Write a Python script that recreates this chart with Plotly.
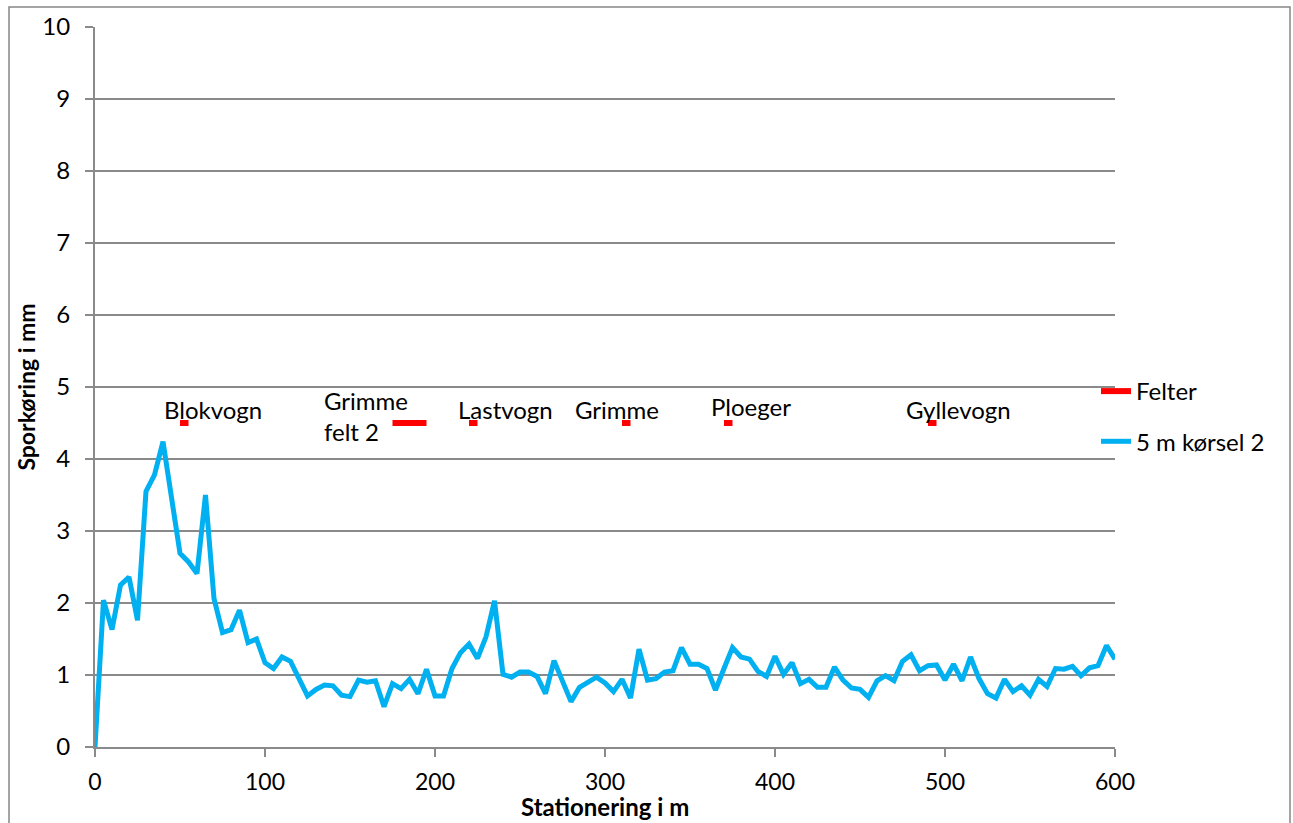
import plotly.graph_objects as go

# Data
station = list(range(0, 605, 5))
kørsel2 = [
    0.00, 2.04, 1.63, 2.25, 2.36, 1.76, 3.55, 3.78, 4.24, 3.45,
    2.69, 2.57, 2.41, 3.50, 2.06, 1.59, 1.63, 1.90, 1.45, 1.50,
    1.17, 1.09, 1.25, 1.19, 0.95, 0.71, 0.80, 0.86, 0.85, 0.72,
    0.70, 0.93, 0.90, 0.92, 0.56, 0.88, 0.81, 0.94, 0.74, 1.08,
    0.71, 0.71, 1.09, 1.31, 1.43, 1.23, 1.53, 2.03, 1.01, 0.97,
    1.04, 1.04, 0.98, 0.74, 1.20, 0.93, 0.63, 0.83, 0.91, 0.97,
    0.89, 0.77, 0.94, 0.68, 1.36, 0.93, 0.95, 1.04, 1.06, 1.38,
    1.15, 1.15, 1.09, 0.79, 1.09, 1.38, 1.25, 1.22, 1.05, 0.98,
    1.26, 1.01, 1.17, 0.88, 0.94, 0.83, 0.83, 1.11, 0.93, 0.82,
    0.80, 0.69, 0.92, 0.99, 0.92, 1.19, 1.28, 1.06, 1.13, 1.14,
    0.93, 1.15, 0.92, 1.25, 0.95, 0.74, 0.68, 0.94, 0.77, 0.85,
    0.72, 0.94, 0.84, 1.09, 1.08, 1.12, 0.99, 1.10, 1.13, 1.41,
    1.22,
]

felter_start = [50, 175, 220, 310, 370, 490]
felter_end = [55, 195, 225, 315, 375, 495]
felter_level = 4.5
felter_labels = ["Blokvogn", "Grimme<br>felt 2", "Lastvogn", "Grimme", "Ploeger", "Gyllevogn"]

x_ticks = [0, 100, 200, 300, 400, 500, 600]
y_ticks = list(range(0, 11))

x_title = "Stationering i m"
y_title = "Sporkøring i mm"

# label offsets (pixels) relative to segment start
label_xshift = [-18, -71, -13, -49, -15, -24]
label_yshift = [14, 7, 14, 14, 17, 14]

FONT = "Lato, 'Open Sans', sans-serif"
GRID = "#8a8a8a"
FS = 24

fx, fy = [], []
for s, e in zip(felter_start, felter_end):
    xs = list(range(s, e + 5, 5))
    fx += xs + [None]
    fy += [felter_level] * len(xs) + [None]

fig = go.Figure()
fig.add_trace(go.Scatter(
    x=fx, y=fy, mode="lines", name="Felter",
    line=dict(color="#ff0000", width=6), connectgaps=False,
    legendgroup="a",
))
fig.add_trace(go.Scatter(
    x=station, y=kørsel2, mode="lines", name="5 m kørsel 2",
    line=dict(color="#00b0f0", width=5),
    legendgroup="b",
))

W, H = 1293, 823
L, R, T, B = 95, 178, 27, 76
pw, ph = W - L - R, H - T - B

def px2paper_x(px):
    return (px - L) / pw

def px2paper_y(py):
    return (H - B - py) / ph

annotations = []
for s, lab, dx, dy in zip(felter_start, felter_labels, label_xshift, label_yshift):
    annotations.append(dict(
        x=s, y=felter_level, xref="x", yref="y", text=lab, showarrow=False,
        xanchor="left", yanchor="middle", align="left", xshift=dx, yshift=dy,
        font=dict(family=FONT, size=FS, color="black"),
    ))
annotations.append(dict(
    x=0.5, y=px2paper_y(H), xref="paper", yref="paper", text=f"<b>{x_title}</b>",
    showarrow=False, xanchor="center", yanchor="bottom",
    font=dict(family=FONT, size=24, color="black"),
))

shapes = [dict(
    type="rect", xref="paper", yref="paper",
    x0=px2paper_x(9), x1=px2paper_x(1290),
    y0=px2paper_y(900), y1=px2paper_y(7),
    line=dict(color="#868686", width=1.5), fillcolor="rgba(0,0,0,0)",
    layer="below",
)]

fig.update_layout(
    width=W, height=H,
    margin=dict(l=L, r=R, t=T, b=B, pad=0, autoexpand=False),
    paper_bgcolor="white", plot_bgcolor="white",
    font=dict(family=FONT, size=FS, color="black"),
    showlegend=True,
    legend=dict(
        x=px2paper_x(1096), y=px2paper_y(369), xanchor="left", yanchor="top",
        font=dict(family=FONT, size=FS, color="black"),
        bgcolor="rgba(0,0,0,0)", tracegroupgap=16, itemwidth=30,
    ),
    annotations=annotations,
    shapes=shapes,
    xaxis=dict(
        range=[0, 600], tickvals=x_ticks, ticktext=[str(v) for v in x_ticks],
        showgrid=False, zeroline=False, automargin=False,
        showline=True, linecolor=GRID, linewidth=2,
        ticks="outside", ticklen=8, tickwidth=2, tickcolor=GRID,
        tickfont=dict(family=FONT, size=23), ticklabelstandoff=5,
    ),
    yaxis=dict(
        range=[0, 10], tickvals=y_ticks, ticktext=[str(v) for v in y_ticks],
        showgrid=True, gridcolor=GRID, gridwidth=2, zeroline=False, automargin=False,
        showline=True, linecolor=GRID, linewidth=2,
        ticks="outside", ticklen=8, tickwidth=2, tickcolor=GRID,
        tickfont=dict(family=FONT, size=FS), ticklabelstandoff=10,
        title=dict(text=f"<b>{y_title}</b>", font=dict(family=FONT, size=23), standoff=0),
    ),
)

fig.write_html("out.html")
